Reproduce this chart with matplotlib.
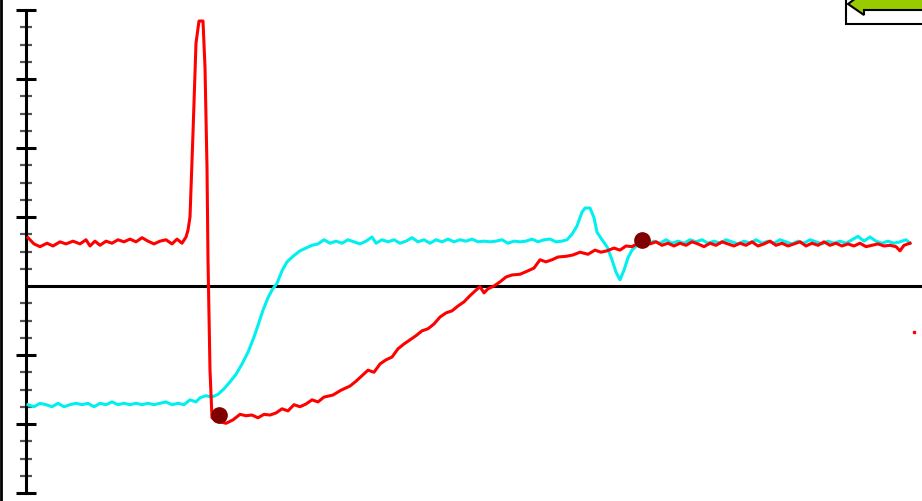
import numpy as np
import matplotlib
matplotlib.use("Agg")
import matplotlib.pyplot as plt
from matplotlib.lines import Line2D
from matplotlib.patches import Polygon, Rectangle

# red trace (time in samples, value in divisions)
red_t = [2, 8, 14, 21, 27, 34, 40, 47, 54, 60,
         64, 69, 74, 80, 86, 92, 98, 104, 110, 116,
         122, 128, 134, 140, 146, 151, 156, 160, 162, 164,
         167, 170, 173, 177, 179, 181, 182, 184, 186, 192,
         200, 207, 214, 220, 226, 232, 238, 244, 250, 256,
         262, 268, 274, 280, 286, 292, 298, 307, 315, 324,
         330, 336, 342, 348, 354, 360, 366, 372, 378, 384,
         390, 396, 402, 408, 414, 420, 426, 432, 438, 444,
         450, 454, 458, 462, 468, 474, 480, 486, 494, 502,
         508, 514, 520, 526, 532, 540, 547, 554, 562, 569,
         575, 581, 588, 594, 600, 606, 612, 618, 624, 630,
         636, 642, 648, 654, 660, 666, 672, 678, 684, 690,
         696, 702, 708, 714, 720, 726, 732, 738, 744, 750,
         756, 762, 768, 774, 780, 786, 792, 798, 804, 810,
         816, 822, 828, 834, 840, 846, 852, 858, 864, 870,
         874, 878, 884]
red_v = [0.70, 0.61, 0.57, 0.62, 0.58, 0.64, 0.61, 0.65, 0.61, 0.67,
         0.58, 0.65, 0.59, 0.65, 0.62, 0.67, 0.64, 0.68, 0.64, 0.70,
         0.65, 0.61, 0.65, 0.67, 0.61, 0.68, 0.62, 0.71, 0.81, 1.00,
         2.22, 3.52, 3.84, 3.84, 3.17, 1.72, 0.38, -1.22, -1.91, -1.96,
         -1.99, -1.94, -1.86, -1.88, -1.87, -1.91, -1.86, -1.87, -1.84, -1.78,
         -1.81, -1.72, -1.75, -1.71, -1.65, -1.68, -1.61, -1.58, -1.51, -1.45,
         -1.38, -1.30, -1.22, -1.25, -1.13, -1.07, -1.03, -0.91, -0.84, -0.78,
         -0.72, -0.65, -0.62, -0.55, -0.45, -0.39, -0.36, -0.29, -0.23, -0.14,
         -0.06, -0.01, -0.10, -0.04, 0.00, 0.06, 0.13, 0.16, 0.17, 0.22,
         0.26, 0.38, 0.35, 0.38, 0.42, 0.43, 0.45, 0.49, 0.46, 0.52,
         0.49, 0.51, 0.55, 0.52, 0.58, 0.57, 0.62, 0.65, 0.61, 0.64,
         0.59, 0.62, 0.58, 0.62, 0.59, 0.64, 0.61, 0.57, 0.62, 0.59,
         0.64, 0.61, 0.58, 0.62, 0.59, 0.64, 0.58, 0.61, 0.65, 0.59,
         0.62, 0.58, 0.61, 0.64, 0.58, 0.62, 0.59, 0.64, 0.59, 0.62,
         0.58, 0.61, 0.58, 0.62, 0.57, 0.59, 0.61, 0.58, 0.59, 0.57,
         0.51, 0.59, 0.62]

# cyan trace
cyan_t = [2, 8, 14, 20, 26, 32, 38, 44, 50, 56,
          62, 68, 74, 80, 86, 92, 98, 104, 110, 116,
          122, 128, 134, 140, 146, 152, 158, 164, 170, 174,
          180, 186, 192, 198, 204, 210, 216, 222, 228, 232,
          237, 242, 246, 251, 256, 261, 267, 274, 280, 286,
          292, 298, 304, 310, 316, 322, 328, 334, 340, 346,
          350, 356, 362, 368, 374, 380, 386, 392, 398, 404,
          410, 416, 422, 428, 434, 440, 446, 452, 458, 464,
          470, 476, 482, 488, 494, 500, 506, 512, 518, 524,
          530, 536, 541, 546, 551, 556, 559, 564, 568, 571,
          576, 581, 586, 590, 594, 598, 602, 606, 611, 616,
          622, 628, 634, 640, 646, 652, 658, 664, 670, 676,
          682, 688, 694, 700, 706, 712, 718, 724, 730, 736,
          742, 748, 754, 760, 766, 772, 778, 784, 790, 796,
          802, 808, 814, 820, 826, 832, 838, 844, 850, 856,
          862, 868, 874, 880, 884]
cyan_v = [-1.72, -1.75, -1.70, -1.72, -1.75, -1.70, -1.75, -1.72, -1.70, -1.72,
          -1.70, -1.75, -1.70, -1.72, -1.68, -1.72, -1.70, -1.72, -1.70, -1.72,
          -1.70, -1.72, -1.70, -1.68, -1.72, -1.70, -1.72, -1.65, -1.68, -1.62,
          -1.59, -1.61, -1.57, -1.49, -1.39, -1.28, -1.13, -0.96, -0.74, -0.57,
          -0.35, -0.17, -0.06, 0.04, 0.22, 0.35, 0.43, 0.51, 0.55, 0.59,
          0.61, 0.67, 0.62, 0.65, 0.62, 0.67, 0.64, 0.61, 0.65, 0.71,
          0.62, 0.67, 0.64, 0.67, 0.62, 0.65, 0.70, 0.64, 0.67, 0.62,
          0.67, 0.64, 0.68, 0.64, 0.67, 0.65, 0.68, 0.64, 0.65, 0.64,
          0.65, 0.67, 0.62, 0.65, 0.64, 0.65, 0.68, 0.64, 0.67, 0.68,
          0.64, 0.65, 0.67, 0.75, 0.87, 1.07, 1.13, 1.13, 0.99, 0.78,
          0.67, 0.57, 0.38, 0.20, 0.09, 0.23, 0.41, 0.52, 0.59, 0.65,
          0.61, 0.65, 0.62, 0.67, 0.62, 0.65, 0.62, 0.67, 0.64, 0.67,
          0.62, 0.65, 0.62, 0.67, 0.64, 0.61, 0.65, 0.62, 0.67, 0.62,
          0.65, 0.62, 0.67, 0.64, 0.61, 0.65, 0.62, 0.67, 0.64, 0.61,
          0.65, 0.62, 0.65, 0.62, 0.67, 0.72, 0.65, 0.71, 0.65, 0.62,
          0.65, 0.62, 0.64, 0.67, 0.62]

# marked points
dot_t = [193, 616]
dot_v = [-1.87, 0.67]

# stray red sample near the right edge
stray_t = [888]
stray_v = [-0.67]

W, H = 922, 501
fig = plt.figure(figsize=(W / 100, H / 100), dpi=100)
fig.patch.set_facecolor("white")

ax = fig.add_axes([26 / W, 8 / H, 896 / W, 483 / H])
ax.set_xlim(0, 896)
ax.set_ylim(-3, 4)

ax.axhline(0, color="black", lw=2.2, zorder=2)
ax.plot(cyan_t, cyan_v, color="#00f0f0", lw=2.2, zorder=3)
ax.plot(red_t, red_v, color="#ff0000", lw=2.2, zorder=4)
ax.plot(stray_t, stray_v, "s", color="#ff0000", ms=1.5, zorder=4)
ax.plot(dot_t, dot_v, "o", color="#800000", ms=11, zorder=5)

for s in ["top", "right", "bottom"]:
    ax.spines[s].set_visible(False)
ax.spines["left"].set_linewidth(2.2)

ax.set_xticks([])
ax.set_yticks([-3, -2, -1, 1, 2, 3, 4])
minor = [k / 4 for k in range(-12, 17) if k % 4 != 0]
ax.set_yticks(minor, minor=True)
ax.tick_params(axis="y", which="major", direction="inout", length=15,
               width=2.2, color="black", labelleft=False)
ax.tick_params(axis="y", which="minor", direction="inout", length=8,
               width=1.6, color="#555555", labelleft=False)

# black frame edge on the left of the picture
fig.add_artist(Line2D([1 / W, 1 / W], [0, 1], color="black", lw=2,
                      transform=fig.transFigure))

# back button in the top right corner
def px(x, y):
    return (x / W, 1 - y / H)

fig.add_artist(Rectangle(px(846, 24), 80 / W, 26 / H, transform=fig.transFigure,
                         facecolor="white", edgecolor="black", lw=1.5))
arrow = [px(848, 4), px(864, -8), px(864, -2), px(925, -2), px(925, 10),
         px(864, 10), px(864, 15)]
fig.add_artist(Polygon(arrow, closed=True, transform=fig.transFigure,
                       facecolor="#99cc00", edgecolor="black", lw=1.5))

fig.savefig("out.png", dpi=100)
